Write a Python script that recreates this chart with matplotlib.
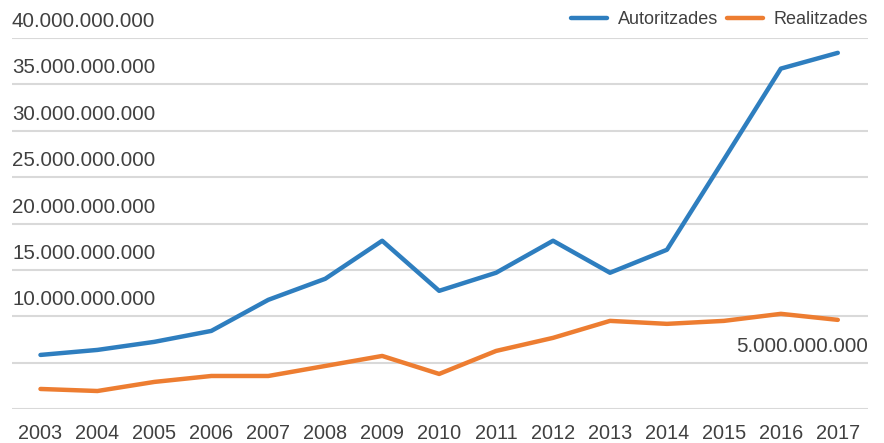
import matplotlib
matplotlib.use('Agg')
import matplotlib.pyplot as plt

years = [2003, 2004, 2005, 2006, 2007, 2008, 2009, 2010, 2011, 2012, 2013, 2014, 2015, 2016, 2017]
autoritzades = [5.83e9, 6.37e9, 7.24e9, 8.42e9, 11.77e9, 14.04e9, 18.14e9, 12.74e9, 14.69e9,
                18.14e9, 14.69e9, 17.17e9, 26.9e9, 36.7e9, 38.4e9]
realitzades = [2.16e9, 1.94e9, 2.92e9, 3.56e9, 3.56e9, 4.64e9, 5.72e9, 3.78e9, 6.26e9,
               7.67e9, 9.50e9, 9.18e9, 9.50e9, 10.26e9, 9.61e9]
yticks = [0, 5e9, 10e9, 15e9, 20e9, 25e9, 30e9, 35e9, 40e9]

blue = '#2e7ebf'
orange = '#ed7d31'
text_col = '#404040'

plt.rcParams['font.family'] = ['Liberation Sans', 'DejaVu Sans']

fig = plt.figure(figsize=(8.84, 4.43), dpi=100)
ax = fig.add_axes([12 / 884, 1 - 409 / 443, 856 / 884, 371 / 443])

ax.plot(years, autoritzades, color=blue, lw=3.2, solid_capstyle='round',
        solid_joinstyle='round', label='Autoritzades', zorder=3)
ax.plot(years, realitzades, color=orange, lw=3.2, solid_capstyle='round',
        solid_joinstyle='round', label='Realitzades', zorder=3)

ax.set_xlim(2002.5, 2017.53)
ax.set_ylim(0, 40e9)
ax.set_yticks(yticks)
ax.set_yticklabels([])
ax.tick_params(axis='y', length=0)
ax.grid(axis='y', color='#d9d9d9', lw=1.5)
ax.set_axisbelow(True)
for s in ax.spines.values():
    s.set_visible(False)

ax.set_xticks(years)
ax.set_xticklabels([str(y) for y in years], fontsize=14.3, color=text_col)
ax.tick_params(axis='x', length=0, pad=11)

# y labels sit above their gridlines
for v in yticks[1:]:
    lab = f'{int(v):,}'.replace(',', '.')
    if v == 5e9:
        ax.text(1.0, v + 0.75e9, lab, transform=ax.get_yaxis_transform(), ha='right',
                va='bottom', fontsize=14.8, color=text_col)
    else:
        ax.text(0.0, v + 0.75e9, lab, transform=ax.get_yaxis_transform(), ha='left',
                va='bottom', fontsize=14.8, color=text_col)

ax.legend(loc='lower right', bbox_to_anchor=(1.012, 1.0), ncol=2, frameon=False,
          fontsize=13, handlelength=2.0, columnspacing=0.5, handletextpad=0.6,
          borderaxespad=0.15, labelcolor=text_col)

fig.savefig('out.png', dpi=100)
